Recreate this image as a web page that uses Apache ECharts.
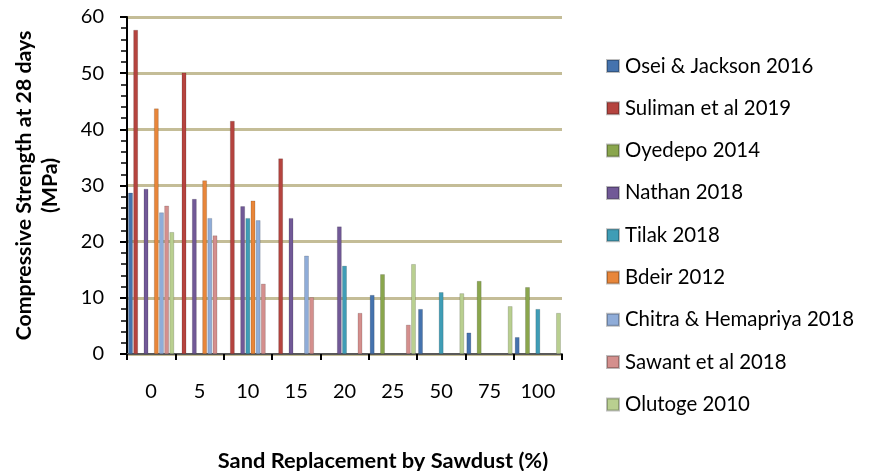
<!DOCTYPE html>
<html>
<head>
<meta charset="utf-8">
<script src="https://cdn.jsdelivr.net/npm/echarts@6/dist/echarts.min.js"></script>
<style>
html,body{margin:0;padding:0;background:#fff;}
#c{width:870px;height:471px;}
</style>
</head>
<body>
<div id="c"></div>
<script>
var categories = ['0','5','10','15','20','25','50','75','100'];
var yTicks = [0,10,20,30,40,50,60];
var seriesNames = ['Osei & Jackson 2016','Suliman et al 2019','Oyedepo 2014','Nathan 2018','Tilak 2018','Bdeir 2012','Chitra & Hemapriya 2018','Sawant et al 2018','Olutoge 2010'];
var osei     = [28.7, null, null, null, null, 10.5, 8.0, 3.8, 3.0];
var suliman  = [57.7, 50.1, 41.5, 34.8, null, null, null, null, null];
var oyedepo  = [null, null, null, null, null, 14.2, null, 13.0, 11.9];
var nathan   = [29.4, 27.6, 26.3, 24.2, 22.7, null, null, null, null];
var tilak    = [null, null, 24.2, null, 15.7, null, 11.0, null, 8.0];
var bdeir    = [43.7, 30.9, 27.3, null, null, null, null, null, null];
var chitra   = [25.2, 24.2, 23.8, 17.5, null, null, null, null, null];
var sawant   = [26.4, 21.1, 12.5, 10.1, 7.3, 5.2, null, null, null];
var olutoge  = [21.7, null, null, null, null, 16.0, 10.8, 8.5, 7.3];
var seriesData = [osei, suliman, oyedepo, nathan, tilak, bdeir, chitra, sawant, olutoge];
var colors = ['#4573AE','#B5443F','#8AA64D','#715997','#3F9DB6','#E8863A','#8FACD8','#D48F8D','#B9CF90'];

var font = 'Lato, Carlito, "Open Sans", sans-serif';
var chart = echarts.init(document.getElementById('c'));
var series = seriesNames.map(function(n,i){
  return {
    name:n, type:'bar', data:seriesData[i],
    barGap:'12%', barCategoryGap:'5%',
    itemStyle:{color:colors[i], borderColor:'rgba(0,0,0,0.25)', borderWidth:0.6},
    animation:false
  };
});
chart.setOption({
  animation:false,
  color:colors,
  grid:{left:127, right:308, top:17, bottom:117},
  legend:{
    orient:'vertical', left:601, top:50,
    itemWidth:12, itemHeight:12, itemGap:20.3,
    icon:'rect',
    textStyle:{fontFamily:font, fontSize:20.4, color:'#000', lineHeight:22, padding:[0,0,0,1]},
    data:seriesNames
  },
  xAxis:{
    type:'category', data:categories,
    axisLine:{show:true, lineStyle:{color:'#595959', width:2}},
    axisTick:{show:true, alignWithLabel:false, length:6, lineStyle:{color:'#000', width:2}},
    axisLabel:{fontFamily:font, fontSize:20, color:'#000', margin:28},
    splitLine:{show:false}
  },
  yAxis:{
    type:'value', min:0, max:60, interval:10,
    name:'Compressive Strength at 28 days\n(MPa)',
    nameLocation:'middle', nameGap:64, nameRotate:90,
    nameTextStyle:{fontFamily:font, fontSize:21.3, fontWeight:'bold', color:'#000', lineHeight:26},
    axisLine:{show:true, lineStyle:{color:'#000', width:2}},
    axisTick:{show:true, length:7, lineStyle:{color:'#000', width:2}},
    minorTick:{show:true, splitNumber:5, length:6, lineStyle:{color:'#000', width:1.5}},
    axisLabel:{fontFamily:font, fontSize:20, color:'#000', margin:23,
      formatter:function(v){ return yTicks.indexOf(v)>=0 ? String(v) : ''; }},
    splitLine:{show:true, lineStyle:{color:'#C4BD97', width:3}}
  },
  graphic:[{
    type:'text', x:383, y:461,
    style:{text:'Sand Replacement by Sawdust (%)', fontFamily:font, fontSize:21.8, fontWeight:'bold', fill:'#000', align:'center', verticalAlign:'middle'}
  }],
  series:series
});
</script>
</body>
</html>
